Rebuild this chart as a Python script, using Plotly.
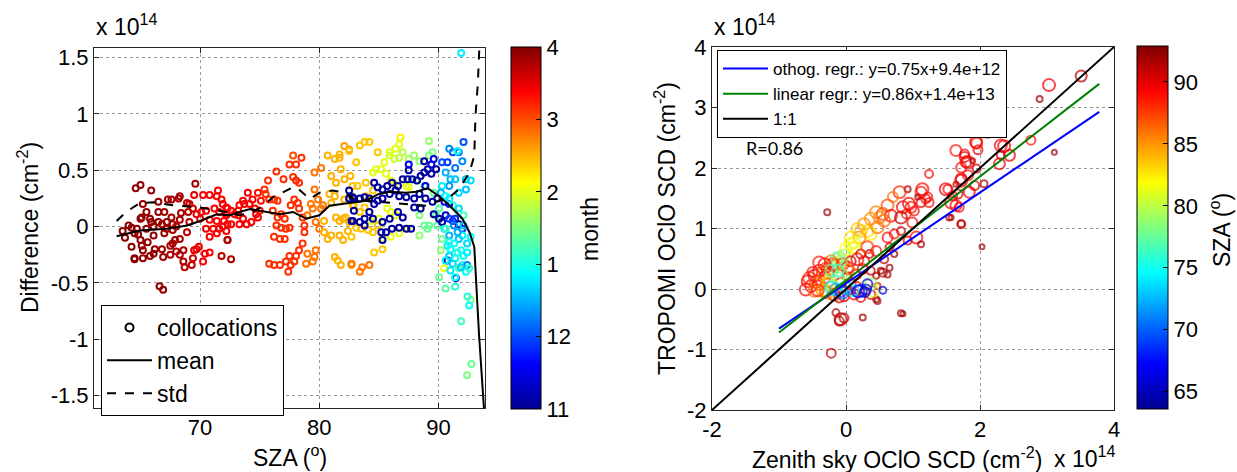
import plotly.graph_objects as go

# ---------------- left panel: SZA vs. difference, coloured by month ----------------
# month code: 11 = Nov, 12 = Dec, 13 = Jan, 14 = Feb, 15 = Mar, 16 = Apr
left_sza = [
    64.6, 65.0, 65.9, 69.6, 67.3, 67.6, 68.2, 68.3, 68.9, 69.1, 69.5, 70.25, 70.8, 71.5, 71.4, 71.8, 71.9, 72.2,
    66.5, 65.2, 66.5, 65.5, 65.1, 65.0, 65.8, 67.0, 67.6, 68.4, 68.3, 69.0, 69.4, 69.7, 70.1, 70.5, 71.2, 71.6, 72.2,
    64.0, 64.25, 65.9, 66.1, 66.5, 66.8, 67.2, 67.7, 68.0, 69.1, 70.0, 70.8, 71.4, 72.0,
    63.7, 64.25, 64.8, 65.0, 65.1, 65.2, 64.5, 65.2, 65.6, 66.1, 66.2, 65.8, 66.1, 66.8, 66.9, 67.0, 67.5, 67.7,
    67.9, 68.0, 67.5, 68.3, 68.6, 68.6, 68.7, 69.3, 69.4, 69.5, 69.7, 69.9, 70.4, 70.8, 70.25, 70.8, 70.5, 71.1,
    71.6, 71.4, 71.9, 72.3, 72.3, 71.8, 66.6, 66.9, 67.7, 68.3, 68.9, 67.2, 64.7, 65.5, 64.5, 63.5, 64.5,
    # March
    72.3, 72.6, 72.2, 72.9, 73.2, 73.3, 73.6, 74.0, 73.7, 74.15, 74.4, 74.6, 74.7, 74.85, 72.6, 73.3, 73.6, 73.9,
    73.2, 74.3, 75.0, 75.1, 74.85, 72.3, 72.6, 72.2,
    75.4, 75.7, 75.5, 75.8, 76.2, 76.5, 76.1, 76.5, 76.8, 77.1, 76.4, 76.8, 77.2, 77.5, 76.2, 76.7, 77.1, 77.0,
    76.4, 77.8, 77.5, 78.05, 78.5, 77.8, 78.05, 78.3, 77.9, 77.6, 75.8, 76.2, 76.7, 77.2, 77.6, 77.9, 77.4, 77.5,
    78.05, 78.6, 78.3, 78.75, 78.75, 78.6, 78.3, 78.2,
    79.0, 79.6, 79.7, 79.45, 78.9, 79.6, 79.9, 80.15, 79.3, 79.0, 79.6, 80.15, 79.45, 79.7, 80.3, 80.0,
    # February
    80.7, 81.3, 81.7, 81.7, 82.1, 82.5, 81.0, 81.4, 81.8, 82.1, 82.6, 80.4, 80.4, 80.7, 81.0, 81.4, 81.7, 82.0,
    82.2, 82.5, 82.4, 81.7, 82.0, 81.3, 81.55, 81.8, 82.7, 81.0, 80.85, 81.3, 82.1, 82.8,
    82.5, 83.1, 83.8, 84.2, 83.4, 84.9, 86.8, 86.7, 86.4, 85.9, 82.8, 83.2, 83.9, 82.7, 83.9, 84.5, 82.9, 83.4,
    83.8, 83.1, 82.7, 83.5, 84.1, 84.6, 85.3, 82.7, 83.4, 83.6, 84.2, 84.9, 84.5,
    84.5, 84.75, 85.2, 85.45, 85.9, 86.3, 86.7, 87.0, 85.6, 86.0, 86.3, 87.3, 87.5, 85.7, 86.0, 86.4, 84.3, 85.0,
    85.3, 86.0, 87.4, 86.7, 90.47,
    # January
    89.2, 87.5, 87.95, 88.4, 89.2, 89.5, 88.1, 88.8, 89.6, 88.8, 89.2, 89.9, 89.8, 90.05, 88.4, 88.4, 89.1,
    90.05, 90.6, 91.4, 92.7, 92.76, 92.4, 90.2, 90.3, 90.6,
    # November
    82.5, 82.8, 82.7, 82.9, 82.5, 82.9, 83.4, 83.8, 84.2, 84.6, 84.9, 85.3, 85.7, 86.1, 86.6, 87.0, 87.4, 87.8,
    88.2, 88.5, 88.8, 89.1, 89.4, 89.6, 87.5, 87.5, 88.8, 89.4, 89.8, 88.9, 88.4, 87.96, 87.3, 86.7, 86.4, 85.9,
    85.3, 84.9, 84.6, 84.2, 83.8, 83.4, 82.8, 83.8, 84.5, 85.3, 85.9, 86.1, 86.7, 87.3, 87.7, 85.2, 85.3, 85.6,
    86.6, 87.0, 87.96, 88.5, 88.9, 89.5, 89.9, 89.6, 90.05, 90.3, 90.6, 90.5, 90.75, 91.45,
    # December
    90.9, 91.2, 91.4, 91.7, 92.0, 92.1, 91.2, 91.7, 90.9, 90.3, 90.75, 91.4, 92.0, 90.6, 91.0, 91.4, 92.3, 92.7,
    90.9, 91.7, 92.3, 90.3, 90.2, 90.6, 90.9, 91.2, 91.7, 92.1, 92.0, 91.7, 90.9, 90.75, 91.3, 90.9, 91.4, 92.0,
    92.4, 91.0, 91.4, 90.6, 91.9, 92.4, 92.7, 90.5, 90.9, 91.3, 91.6, 92.1, 90.6, 91.0, 91.6, 92.1, 91.2, 91.7,
    92.3, 90.9, 92.4, 92.43, 92.57, 91.9, 92.57, 91.87, 91.9, 91.6,
]
left_diff = [
    0.34, 0.37, 0.32, 0.38, 0.24, 0.24, 0.25, 0.27, 0.21, 0.20, 0.28, 0.28, 0.28, 0.32, 0.27, 0.24, 0.20, 0.17,
    0.22, 0.20, 0.13, 0.13, 0.08, 0.07, 0.07, 0.13, 0.08, 0.12, 0.06, 0.13, 0.16, 0.11, 0.13, 0.14, 0.16, 0.13, 0.10,
    0.01, -0.01, 0.04, 0.00, 0.04, 0.02, 0.04, 0.02, 0.00, 0.04, 0.07, 0.06, 0.05, 0.05,
    -0.10, -0.18, -0.07, -0.12, -0.17, -0.21, -0.28, -0.28, -0.14, -0.08, -0.20, -0.26, -0.24, -0.20, -0.27, -0.06, -0.17, -0.15,
    -0.12, -0.22, -0.25, -0.25, -0.21, -0.31, -0.36, -0.34, -0.28, -0.21, -0.20, -0.18, -0.24, -0.23, -0.31, -0.09, -0.02, -0.02,
    -0.02, -0.06, 0.00, 0.02, -0.12, -0.26, -0.53, -0.56, -0.03, -0.11, -0.05, -0.02, -0.02, -0.02, -0.06, -0.04, -0.29,
    0.16, 0.14, 0.11, 0.11, 0.14, 0.19, 0.23, 0.30, 0.20, 0.20, 0.24, 0.16, 0.11, 0.08, 0.02, 0.02, 0.07, 0.02,
    0.10, 0.04, 0.14, 0.23, 0.30, -0.12, -0.29, -0.04,
    0.33, 0.41, 0.29, 0.24, 0.24, 0.23, 0.14, 0.08, 0.11, 0.07, 0.01, -0.01, -0.02, -0.01, -0.09, -0.11, -0.11, 0.42,
    0.49, 0.63, 0.55, 0.55, 0.61, 0.44, 0.41, 0.39, 0.24, 0.19, -0.33, -0.34, -0.34, -0.31, -0.34, -0.31, -0.40, -0.26,
    -0.26, -0.15, -0.21, -0.05, 0.01, 0.08, 0.16, 0.21,
    -0.24, -0.27, -0.21, -0.31, -0.33, 0.33, 0.24, 0.16, 0.20, 0.10, 0.48, 0.52, 0.16, 0.04, 0.19, -0.02,
    0.63, 0.60, 0.61, 0.64, 0.715, 0.685, 0.45, 0.39, 0.51, 0.42, 0.45, 0.05, -0.05, -0.11, -0.08, 0.08, 0.05, 0.07,
    0.08, 0.04, -0.04, -0.08, -0.12, -0.27, -0.30, -0.34, -0.34, 0.21, 0.29, 0.27, 0.24, 0.19,
    0.67, 0.57, 0.75, 0.75, 0.72, 0.66, 0.79, 0.73, 0.69, 0.66, 0.36, 0.36, 0.39, 0.27, 0.27, 0.32, 0.19, 0.13,
    0.17, -0.01, -0.09, -0.02, -0.03, -0.23, -0.20, -0.33, -0.40, -0.36, -0.34, 0.01, -0.05,
    0.48, 0.51, 0.51, 0.57, 0.63, 0.60, 0.61, 0.66, 0.47, 0.41, 0.38, 0.36, 0.35, 0.16, 0.13, 0.10, 0.05, 0.07,
    -0.11, -0.09, -0.02, -0.06, -0.37,
    0.76, 0.60, 0.63, 0.58, 0.63, 0.66, 0.41, 0.36, 0.30, 0.01, 0.01, 0.01, 0.10, 0.16, 0.10, -0.08, -0.02,
    -0.45, -0.55, -0.535, -0.65, -1.22, -1.32, -0.21, -0.11, -0.02,
    0.32, 0.26, 0.05, 0.14, 0.25, 0.25, 0.25, 0.26, 0.25, 0.39, 0.35, 0.33, 0.36, 0.39, 0.36, 0.42, 0.42, 0.42,
    0.41, 0.45, 0.48, 0.51, 0.55, 0.60, 0.55, 0.50, 0.58, 0.47, 0.51, 0.36, 0.29, 0.25, 0.26, 0.27, 0.32, 0.29,
    0.25, 0.23, 0.20, 0.13, 0.07, 0.04, 0.05, 0.01, 0.07, 0.04, 0.07, -0.02, -0.01, -0.02, -0.02, -0.05, -0.12, -0.05,
    0.13, 0.08, 0.17, 0.16, 0.25, 0.22, 0.25, 0.11, 0.07, 0.04, 0.10, 0.22, -0.30, -0.456,
    0.20, 0.05, 0.07, 0.02, -0.02, 0.75, 0.66, 0.66, 0.69, 0.57, 0.57, 0.52, 0.58, 0.48, 0.42, 0.42, 0.42, 0.41,
    0.36, 0.30, 0.33, 0.36, 0.30, 0.27, 0.25, 0.19, 0.16, 0.10, -0.08, -0.11, -0.08, -0.17, -0.15, -0.26, -0.28, -0.34,
    -0.34, -0.39, -0.45, -0.30, -0.21, -0.15, -0.09, -0.02, 0.07, 0.01, -0.05, 0.01, -0.02, -0.20, -0.23, -0.26, -0.33, -0.37,
    -0.40, -0.14, -0.23, -0.62, -0.70, -0.84, -0.37, -0.36, 1.54, 0.67,
]
left_month = (
    [15.9, 15.9, 15.9, 15.8, 15.8, 15.8, 15.8, 15.8, 15.7, 15.7, 15.5, 15.4, 15.4, 15.4, 15.4, 15.4, 15.4, 15.4,
     15.9, 15.9, 15.9, 15.9, 15.9, 15.9, 15.9, 15.8, 15.8, 15.8, 15.8, 15.7, 15.6, 15.5, 15.4, 15.4, 15.4, 15.4, 15.4,
     15.95, 15.95, 15.9, 15.9, 15.9, 15.85, 15.85, 15.8, 15.8, 15.7, 15.5, 15.4, 15.4, 15.4,
     15.95, 15.95, 15.9, 15.9, 15.9, 15.9, 15.95, 15.9, 15.9, 15.9, 15.9, 15.9, 15.9, 15.85, 15.85, 15.85, 15.8, 15.8,
     15.8, 15.8, 15.8, 15.75, 15.75, 15.75, 15.75, 15.7, 15.6, 15.5, 15.5, 15.45, 15.4, 15.4, 15.4, 15.4, 15.4, 15.4,
     15.4, 15.4, 15.4, 15.4, 15.4, 15.7, 15.9, 15.9, 15.8, 15.8, 15.7, 15.85, 15.9, 15.9, 15.95, 15.95, 15.95]
    + [15.4] * 20 + [15.3, 15.3, 15.3, 15.8, 15.8, 15.4]
    + [15.15] * 19 + [15.0] + [15.15] * 24
    + [14.8] * 16
    + [14.5] * 4 + [14.6, 14.6] + [14.5] * 26
    + [14.4] * 6 + [14.2, 14.0, 14.0, 14.0] + [14.4] * 15 + [14.8] * 4 + [14.4, 14.4]
    + [14.0] * 4 + [13.9, 13.9, 13.8, 13.8] + [14.0] * 14 + [14.0]
    + [13.6, 13.7, 13.6, 13.55, 13.5, 13.5, 13.6, 13.5, 13.4, 13.4, 13.4, 13.3, 13.3, 13.3, 13.5, 13.6, 13.4,
       13.4, 13.3, 13.1, 13.5, 13.4, 13.5, 13.6, 13.4, 13.3]
    + [11.1] * 22 + [11.4, 11.5, 11.6] + [11.1] * 4 + [11.5] + [11.1] * 34
    + [11.3, 11.5, 11.3, 11.5, 11.6, 11.8, 11.8, 11.1, 11.9]
    + [12.0, 12.0, 12.2, 12.3, 12.0, 11.9, 12.2, 12.3, 12.5, 12.5, 12.6, 12.6, 12.7, 12.4, 12.7, 12.6, 12.8, 12.5,
       12.9, 12.8, 13.1, 12.7, 13.2, 12.9, 12.6, 12.5, 12.8, 12.9, 12.6, 12.9, 13.0, 12.3, 12.8, 12.9, 12.8, 13.0,
       12.7, 12.9, 12.7, 11.9, 12.3, 12.5, 12.6, 13.2, 12.9, 13.0, 12.9, 12.7, 13.3, 12.9, 13.0, 12.8, 13.1, 12.9,
       13.2, 13.1, 12.6, 12.8, 12.9, 12.9, 12.0, 12.8, 12.5, 12.9]
)

# running mean and standard deviation of the difference
mean_sza = [63.0, 64.95, 67.2, 68.9, 70.0, 71.4, 72.5, 73.3, 74.2, 75.0, 76.7, 77.8, 78.9, 80.0, 80.85, 81.9,
            83.1, 83.9, 85.0, 85.9, 87.3, 88.1, 89.1, 90.05, 90.9, 92.0, 92.6, 93.0, 93.4, 93.9]
mean_diff = [-0.085, -0.035, -0.02, 0.01, 0.05, 0.11, 0.10, 0.13, 0.155, 0.14, 0.11, 0.13, 0.07, 0.10, 0.185, 0.20,
             0.22, 0.23, 0.29, 0.31, 0.30, 0.31, 0.34, 0.27, 0.19, 0.07, -0.05, -0.18, -0.96, -1.75]
std_sza = [63.0, 63.8, 64.95, 66.1, 67.7, 70.0, 72.2, 73.3, 74.4, 75.3, 76.1, 77.8, 78.3, 79.2, 80.0, 81.1, 82.2,
           82.8, 83.9, 85.6, 87.3, 89.0, 90.05, 90.9, 91.7, 92.6, 93.0, 93.1, 93.3, 93.45]
std_diff = [0.05, 0.13, 0.21, 0.215, 0.19, 0.17, 0.13, 0.10, 0.13, 0.185, 0.26, 0.35, 0.33, 0.245, 0.30, 0.32, 0.30,
            0.25, 0.23, 0.215, 0.20, 0.185, 0.23, 0.26, 0.33, 0.48, 0.63, 0.98, 1.27, 1.65]

month_ticks = [11, 12, 13, 14, 15, 16]
month_labels = ["11", "12", "1", "2", "3", "4"]

# ---------------- right panel: zenith-sky vs TROPOMI OClO SCD ----------------
right_zenith = [
    3.51, 3.03, 2.89, 3.11, 2.76, 2.36, 2.44, 2.29, 2.06, 2.12, 1.95, 1.97, 1.64, 1.77, 1.79, 1.89, 1.95, 2.06,
    1.24, 1.72, 1.52, 1.64, 1.84, 1.64, 1.72, 1.57, 1.12, 1.19, 1.24, 0.97, 0.90, 2.03, 0.85, -0.28,
    1.14, 0.92, 1.07, 0.80, 0.70, 0.62, 0.67, 0.50, 0.85, 0.94, 1.02, 1.12, 1.22, 0.82, 0.99, 0.82, 1.05, 1.12,
    0.92, 0.72, 0.62, 0.65, 0.72, 0.57, 0.65, 0.55, 0.45, 1.49, 1.59, 1.67, 1.72, 1.82, 1.92, 1.57, 1.69, 1.54,
    1.72, 1.72, 1.82, 1.77, 1.94, 2.31, 2.31,
    0.22, 0.32, 0.27, 0.37, 0.20, 0.07, 0.12, 0.00, -0.03, -0.10, -0.12, -0.22, -0.17, -0.05, 0.07, 0.02, 0.17, 0.22,
    0.27, 0.35, 0.45, 0.32, 0.47, 0.57, 0.37, 0.45, 0.55, 0.07, 0.17, 0.12, -0.08, -0.15, -0.20, -0.32, -0.40,
    -0.57, -0.52, -0.60, -0.47, -0.40, -0.32, -0.27, -0.40, -0.47, -0.35, -0.27, -0.18, -0.10, -0.03, 0.05,
    -0.27, 0.07, 0.15, 0.47, 0.45, 0.37, 0.22, 0.12, -0.08, 0.02, 0.15, 0.25, 0.37, -0.15, -0.08, -0.10, -0.03,
    0.25, 0.82, 0.47, 0.62, 0.52, -0.22, -0.55, -0.45, -0.35, -0.30, -0.50, -0.25, -0.30, -0.42,
    -0.20, -0.12, -0.05, 0.05, -0.22, -0.12, 0.37, 0.40,
    -0.22, -0.15, -0.08, 0.22, 0.30, 0.32, 0.55, 0.10, 0.00, -0.05, 0.18, 0.28,
]
right_tropomi = [
    3.52, 3.37, 3.14, 2.26, 2.46, 2.36, 2.21, 2.07, 2.57, 2.54, 2.41, 2.30, 2.29, 2.23, 2.10, 2.12, 1.99, 1.74,
    1.90, 1.82, 1.65, 1.73, 1.60, 1.38, 1.08, 1.18, 1.60, 1.49, 1.43, 1.35, 1.24, 0.70, -0.41, 1.27,
    1.65, 1.65, 1.52, 1.60, 1.52, 1.38, 1.21, 1.18, 1.35, 1.41, 1.29, 1.43, 1.52, 1.18, 1.10, 0.96, 0.85, 0.74,
    0.80, 0.91, 0.85, 0.69, 0.58, 0.49, 0.35, 0.27, 0.22, 1.65, 1.54, 1.57, 1.79, 1.88, 1.71, 1.43, 1.35, 1.18,
    1.07, 2.01, 2.10, 2.18, 2.43, 2.21, 2.37,
    0.96, 0.96, 1.07, 0.91, 0.85, 0.74, 0.69, 0.66, 0.55, 0.52, 0.41, 0.46, 0.38, 0.41, 0.46, 0.35, 0.49, 0.58,
    0.46, 0.58, 0.63, 0.69, 1.02, 1.13, 1.16, 1.27, 1.24, 0.85, 0.99, 0.77, 0.46, 0.49, 0.41, 0.41, 0.44,
    0.13, 0.05, -0.01, -0.03, 0.08, 0.19, 0.27, 0.30, 0.22, -0.03, -0.06, -0.09, -0.14, -0.12, -0.03,
    0.10, 0.08, 0.02, 0.05, -0.17, -0.09, -0.14, -0.09, 0.10, 0.21, 0.24, 0.33, 0.30, -0.39, -0.50, -0.53, -0.48,
    -0.47, -0.40, -0.20, 0.24, 0.30, -1.06, 0.18, 0.12, 0.25, 0.35, 0.28, 0.15, -0.05, -0.02,
    0.05, 0.18, 0.25, 0.32, 0.30, 0.30, 0.08, -0.03,
    0.02, -0.01, -0.03, -0.03, -0.01, 0.08, -0.02, -0.02, 0.02, -0.06, -0.04, -0.05,
]
right_sza = [
    91.5, 89.5, 92, 92, 89, 89.5, 90, 90, 91, 92, 89, 90, 88.5, 89.5, 90, 92, 91, 91.5,
    89, 90, 89.5, 92, 90, 89.5, 91.5, 91, 88.5, 89.5, 89, 88.5, 88.5, 92, 92, 92,
    89, 92, 92, 88, 86, 87, 89, 85.5, 89, 89.5, 89, 90, 89, 91, 89, 91, 89.5, 92,
    90, 89, 89, 91, 92, 91, 92, 91, 92, 89.5, 90, 91, 89.5, 89, 90.5, 89, 89.5, 92,
    91, 89, 89.5, 90, 89, 91, 89.5,
    84, 83, 85, 82.5, 85.5, 82, 81.5, 82, 80, 78, 78.5, 86, 86.5, 88, 91, 89, 89, 90.5,
    89, 91, 89, 87.5, 86, 86.5, 85, 85.5, 87, 82.5, 83.5, 81, 79.5, 77.5, 87.5, 89, 88.5,
    89.5, 89, 89.5, 86, 87, 88.5, 89, 89, 89.5, 85, 84, 89, 91, 90, 91.5,
    82, 90, 89.5, 90, 92, 90, 90, 89.5, 91, 91, 89, 89.5, 91, 91.5, 91, 91.5, 91,
    92, 92, 92, 92, 92, 91, 88, 87, 85, 88, 89, 84, 86, 88,
    80, 78, 80, 86, 77, 76, 79, 81,
    74, 73, 69, 68, 67, 66, 66, 75, 73, 70, 67, 66,
]
right_size = [
    11, 12, 6, 5, 9, 12, 11, 11, 8, 5, 11, 9, 11, 9, 11, 5, 8, 7,
    8, 11, 9, 5, 11, 11, 7, 5, 11, 9, 9, 11, 9, 5, 5, 6,
    12, 6, 5, 12, 10, 12, 12, 12, 12, 12, 9, 9, 9, 12, 10, 8, 12, 6,
    8, 9, 10, 8, 6, 8, 6, 8, 6, 12, 9, 9, 12, 10, 9, 12, 9, 6,
    8, 10, 12, 10, 12, 8, 12,
    12, 12, 12, 12, 12, 12, 12, 12, 12, 12, 12, 12, 12, 12, 10, 12, 12, 9,
    10, 8, 10, 12, 12, 12, 12, 12, 12, 12, 12, 12, 12, 12, 12, 12, 12,
    12, 12, 12, 12, 12, 12, 12, 12, 12, 12, 12, 12, 10, 10, 8,
    12, 10, 12, 6, 6, 9, 9, 10, 10, 8, 10, 10, 8, 7, 12, 9, 9,
    6, 6, 6, 6, 6, 9, 12, 12, 12, 10, 10, 12, 12, 12,
    12, 12, 10, 10, 12, 12, 12, 12,
    12, 12, 12, 12, 10, 10, 7, 12, 12, 12, 12, 10,
]

# regression results (slope, intercept in cm^-2) and the x extent of the fitted lines
orth_slope, orth_icpt = 0.75, 9.4e12
lin_slope, lin_icpt = 0.86, 1.4e13
fit_x = [-1.0, 3.78]
one_to_one = [-2.0, 4.0]
r_value = 0.86
SCALE = 1e14

sza_ticks = [65, 70, 75, 80, 85, 90]

# ---------------- figure ----------------
W, H = 1237, 472
FONT = "Liberation Sans, Arial, sans-serif"
jet = [[0.0, "#00008F"], [0.125, "#0000FF"], [0.375, "#00FFFF"],
       [0.625, "#FFFF00"], [0.875, "#FF0000"], [1.0, "#800000"]]


def px(x):
    return x / W


def py(y):
    return 1 - y / H


fig = go.Figure()

fig.add_trace(go.Scatter(
    x=left_sza, y=left_diff, mode="markers", xaxis="x", yaxis="y", showlegend=False,
    marker=dict(symbol="circle-open", size=6, color=left_month, colorscale=jet, cmin=11, cmax=16,
                line=dict(width=2),
                colorbar=dict(x=px(511), xanchor="left", y=py(47), yanchor="top", len=362 / H,
                              lenmode="fraction", thickness=30, xpad=0, ypad=0,
                              outlinewidth=1, outlinecolor="#000", tickvals=month_ticks,
                              ticktext=month_labels, ticks="inside", ticklen=5, tickcolor="#000",
                              tickfont=dict(family=FONT, size=22, color="#000"))),
))
fig.add_trace(go.Scatter(
    x=[None], y=[None], mode="markers", name="collocations", xaxis="x", yaxis="y", legend="legend",
    marker=dict(symbol="circle-open", size=8, color="#000", line=dict(width=2)),
))
fig.add_trace(go.Scatter(
    x=mean_sza, y=mean_diff, mode="lines", name="mean", xaxis="x", yaxis="y", legend="legend",
    line=dict(color="#000", width=2),
))
fig.add_trace(go.Scatter(
    x=std_sza, y=std_diff, mode="lines", name="std", xaxis="x", yaxis="y", legend="legend",
    line=dict(color="#000", width=2, dash="dash"),
))

fig.add_trace(go.Scatter(
    x=right_zenith, y=right_tropomi, mode="markers", xaxis="x2", yaxis="y2", showlegend=False,
    marker=dict(symbol="circle-open", size=right_size, color=right_sza, colorscale=jet,
                cmin=63.6, cmax=92.9, line=dict(width=2),
                colorbar=dict(x=px(1137), xanchor="left", y=py(46), yanchor="top", len=363 / H,
                              lenmode="fraction", thickness=31, xpad=0, ypad=0,
                              outlinewidth=1, outlinecolor="#000", tickvals=sza_ticks,
                              ticks="inside", ticklen=5, tickcolor="#000",
                              tickfont=dict(family=FONT, size=22, color="#000"))),
))
fig.add_trace(go.Scatter(
    x=fit_x, y=[orth_slope * v + orth_icpt / SCALE for v in fit_x], mode="lines",
    name=f"othog. regr.: y={orth_slope}x+{orth_icpt:.1e}",
    xaxis="x2", yaxis="y2", legend="legend2", line=dict(color="#0000FF", width=2),
))
fig.add_trace(go.Scatter(
    x=fit_x, y=[lin_slope * v + lin_icpt / SCALE for v in fit_x], mode="lines",
    name=f"linear regr.: y={lin_slope}x+{lin_icpt:.1e}",
    xaxis="x2", yaxis="y2", legend="legend2", line=dict(color="#008000", width=2),
))
fig.add_trace(go.Scatter(
    x=one_to_one, y=one_to_one, mode="lines", name="1:1",
    xaxis="x2", yaxis="y2", legend="legend2", line=dict(color="#000", width=2),
))

axis_common = dict(showline=True, linecolor="#262626", linewidth=1, mirror="ticks", ticks="inside",
                   ticklen=5, tickcolor="#262626", showgrid=True, gridcolor="#9a9a9a", gridwidth=1,
                   griddash="dot", zeroline=False, automargin=False,
                   tickfont=dict(family=FONT, size=22, color="#000"))

fig.update_layout(
    width=W, height=H, margin=dict(l=0, r=0, t=0, b=0),
    paper_bgcolor="white", plot_bgcolor="white",
    font=dict(family=FONT, color="#000"),
    xaxis=dict(domain=[px(94), px(485)], range=[61.1, 93.9], tickvals=[70, 80, 90], anchor="y",
               **axis_common),
    yaxis=dict(domain=[py(408), py(48)], range=[-1.61, 1.585], anchor="x",
               tickvals=[-1.5, -1, -0.5, 0, 0.5, 1, 1.5],
               ticktext=["-1.5", "-1", "-0.5", "0", "0.5", "1", "1.5"], **axis_common),
    xaxis2=dict(domain=[px(712), px(1114)], range=[-2, 4], tickvals=[-2, 0, 2, 4],
                ticktext=["-2", "0", "2", "4"], anchor="y2", **axis_common),
    yaxis2=dict(domain=[py(410), py(47)], range=[-2, 4], tickvals=[-2, -1, 0, 1, 2, 3, 4],
                ticktext=["-2", "-1", "0", "1", "2", "3", "4"], anchor="x2", **axis_common),
    legend=dict(x=px(101), y=py(305), xanchor="left", yanchor="top", bgcolor="white",
                bordercolor="#000", borderwidth=1, font=dict(family=FONT, size=23, color="#000"),
                traceorder="normal", itemwidth=45),
    legend2=dict(x=px(717), y=py(50), xanchor="left", yanchor="top", bgcolor="white",
                 bordercolor="#000", borderwidth=1, font=dict(family=FONT, size=17, color="#000"),
                 traceorder="normal", itemwidth=45),
)

ann = dict(xref="paper", yref="paper", showarrow=False, font=dict(family=FONT, size=23, color="#000"))
fig.add_annotation(text="x 10<sup>14</sup>", x=px(94), y=py(42), xanchor="left", yanchor="bottom", **ann)
fig.add_annotation(text="x 10<sup>14</sup>", x=px(712), y=py(42), xanchor="left", yanchor="bottom", **ann)
fig.add_annotation(text="x 10<sup>14</sup>", x=px(1052), y=py(474), xanchor="left", yanchor="bottom", **ann)
fig.add_annotation(text="SZA (<sup>o</sup>)", x=px(289.5), y=py(473), xanchor="center", yanchor="bottom", **ann)
fig.add_annotation(text="Difference (cm<sup>-2</sup>)", x=px(28), y=py(228), textangle=-90,
                   xanchor="center", yanchor="middle", **ann)
fig.add_annotation(text="month", x=px(590), y=py(229), textangle=-90, xanchor="center", yanchor="middle", **ann)
fig.add_annotation(text="TROPOMI OClO SCD (cm<sup>-2</sup>)", x=px(665), y=py(229), textangle=-90,
                   xanchor="center", yanchor="middle", **ann)
fig.add_annotation(text="Zenith sky OClO SCD (cm<sup>-2</sup>)", x=px(897), y=py(475), xanchor="center",
                   yanchor="bottom", **ann)
fig.add_annotation(text="SZA (<sup>o</sup>)", x=px(1220), y=py(230), textangle=-90, xanchor="center",
                   yanchor="middle", **ann)
fig.add_annotation(text=f"R={r_value}", x=px(744), y=py(148), xanchor="left", yanchor="middle",
                   xref="paper", yref="paper", showarrow=False,
                   font=dict(family="Lato, sans-serif", size=18, color="#000"))

fig.write_html("out.html")
